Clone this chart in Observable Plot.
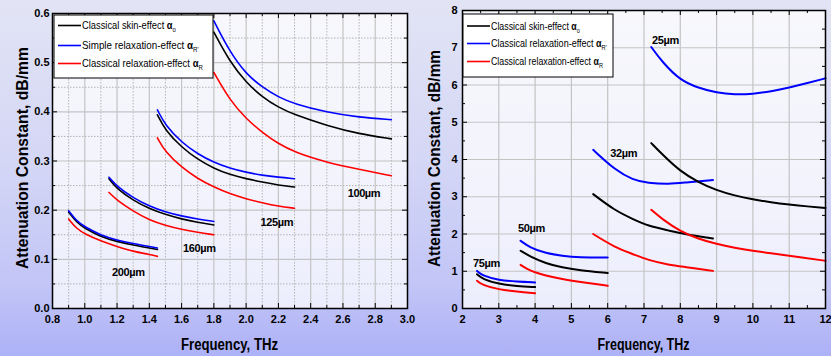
<!DOCTYPE html>
<html><head><meta charset="utf-8">
<script src="https://cdn.jsdelivr.net/npm/d3@7"></script>
<script src="https://cdn.jsdelivr.net/npm/@observablehq/plot@0.6"></script>
<style>
html,body{margin:0;padding:0;}
body{width:831px;height:356px;overflow:hidden;background:linear-gradient(to bottom,#e2e4f5 0%,#d4d7f5 45%,#c2c5f6 80%,#adb1f7 100%);font-family:"Liberation Sans",Arial,sans-serif;}
#wrap{position:relative;width:831px;height:356px;display:flex;}
#wrap svg{display:block;overflow:visible;background:transparent;}
</style></head><body><div id="wrap"></div>
<script>
// ---------- LEFT PANEL DATA (thick films) ----------
const leftGroups = ["200µm","160µm","125µm","100µm"];
const L200_f      = [0.90,0.95,1.00,1.10,1.20,1.30,1.40,1.45];
const L200_skin   = [0.196,0.175,0.163,0.146,0.136,0.129,0.123,0.120];
const L200_simple = [0.199,0.178,0.166,0.149,0.139,0.132,0.126,0.123];
const L200_class  = [0.182,0.162,0.152,0.137,0.126,0.116,0.110,0.106];

const L160_f      = [1.15,1.20,1.30,1.40,1.50,1.60,1.70,1.80];
const L160_skin   = [0.264,0.243,0.220,0.203,0.191,0.182,0.175,0.170];
const L160_simple = [0.267,0.248,0.225,0.208,0.196,0.188,0.182,0.177];
const L160_class  = [0.236,0.220,0.198,0.180,0.169,0.161,0.155,0.150];

const L125_f      = [1.45,1.50,1.60,1.70,1.80,1.90,2.00,2.10,2.20,2.30];
const L125_skin   = [0.394,0.362,0.328,0.303,0.285,0.272,0.264,0.257,0.251,0.247];
const L125_simple = [0.404,0.372,0.338,0.314,0.297,0.285,0.277,0.271,0.267,0.264];
const L125_class  = [0.347,0.318,0.287,0.264,0.247,0.233,0.223,0.215,0.208,0.204];

const L100_f      = [1.80,1.90,2.00,2.10,2.20,2.30,2.50,2.70,2.90];
const L100_skin   = [0.562,0.501,0.460,0.430,0.409,0.394,0.372,0.355,0.345];
const L100_simple = [0.585,0.521,0.477,0.450,0.430,0.416,0.399,0.389,0.384];
const L100_class  = [0.480,0.423,0.386,0.358,0.335,0.318,0.297,0.283,0.270];

// ---------- RIGHT PANEL DATA (thin films) ----------
const rightGroups = ["75µm","50µm","32µm","25µm"];
const R75_f      = [2.4,2.55,3.0,3.5,4.0];
const R75_skin   = [0.92,0.79,0.66,0.60,0.575];
const R75_simple = [1.01,0.88,0.76,0.72,0.70];
const R75_class  = [0.745,0.63,0.51,0.45,0.41];

const R50_f      = [3.6,3.85,4.3,4.75,5.2,6.0];
const R50_skin   = [1.55,1.40,1.21,1.10,1.03,0.95];
const R50_simple = [1.82,1.64,1.48,1.41,1.37,1.37];
const R50_class  = [1.17,1.01,0.88,0.79,0.72,0.61];

const R32_f      = [5.6,6.2,6.7,7.1,7.7,8.1,8.9];
const R32_skin   = [3.07,2.63,2.40,2.22,2.09,2.00,1.88];
const R32_simple = [4.26,3.72,3.45,3.37,3.34,3.38,3.45];
const R32_class  = [2.00,1.64,1.46,1.30,1.17,1.12,1.01];

const R25_f      = [7.2,7.5,8.0,8.5,9.0,9.5,10.0,10.5,11.0,11.5,12.0];
const R25_skin   = [4.44,4.14,3.68,3.39,3.17,3.03,2.93,2.85,2.79,2.74,2.70];
const R25_simple = [7.02,6.62,6.12,5.92,5.79,5.74,5.76,5.83,5.93,6.05,6.18];
const R25_class  = [2.65,2.40,2.07,1.87,1.73,1.63,1.55,1.48,1.42,1.35,1.28];

// ---------- ANNOTATION LABELS ----------
const leftLabelText = ["200µm","160µm","125µm","100µm"];
const leftLabelF    = [1.27,1.71,2.19,2.73];
const leftLabelV    = [0.073,0.122,0.175,0.234];
const rightLabelText = ["75µm","50µm","32µm","25µm"];
const rightLabelF    = [2.66,3.90,6.44,7.59];
const rightLabelV    = [1.20,2.14,4.16,7.20];

// ---------- TICKS ----------
const leftXTicks = [0.8,1.0,1.2,1.4,1.6,1.8,2.0,2.2,2.4,2.6,2.8,3.0];
const leftXMinor = [0.9,1.1,1.3,1.5,1.7,1.9,2.1,2.3,2.5,2.7,2.9];
const leftYTicks = [0,0.1,0.2,0.3,0.4,0.5,0.6];
const leftYMinor = [0.05,0.15,0.25,0.35,0.45,0.55];
const rightXTicks = [2,3,4,5,6,7,8,9,10,11,12];
const rightXMinor = [2.5,3.5,4.5,5.5,6.5,7.5,8.5,9.5,10.5,11.5];
const rightYTicks = [0,1,2,3,4,5,6,7,8];
const rightYMinor = [0.5,1.5,2.5,3.5,4.5,5.5,6.5,7.5];

// ---------- LEGENDS ----------
const seriesKeys = ["skin","simple","classical"];
const seriesColors = ["#000000","#0000ff","#ff0000"];
const leftLegendText  = ["Classical skin-effect ","Simple relaxation-effect ","Classical relaxation-effect "];
const rightLegendText = ["Classical skin-effect ","Classical relaxation-effect ","Classical relaxation-effect "];
const legendSub = ["o","R'","R"];

function addGroup(rows, panel, group, f, skin, simple, classical) {
  f.forEach((x, i) => {
    rows.push({panel, group, series: "skin", f: x, v: skin[i]});
    rows.push({panel, group, series: "simple", f: x, v: simple[i]});
    rows.push({panel, group, series: "classical", f: x, v: classical[i]});
  });
}
const leftRows = [];
addGroup(leftRows, "L", "200", L200_f, L200_skin, L200_simple, L200_class);
addGroup(leftRows, "L", "160", L160_f, L160_skin, L160_simple, L160_class);
addGroup(leftRows, "L", "125", L125_f, L125_skin, L125_simple, L125_class);
addGroup(leftRows, "L", "100", L100_f, L100_skin, L100_simple, L100_class);
const rightRows = [];
addGroup(rightRows, "R", "75", R75_f, R75_skin, R75_simple, R75_class);
addGroup(rightRows, "R", "50", R50_f, R50_skin, R50_simple, R50_class);
addGroup(rightRows, "R", "32", R32_f, R32_skin, R32_simple, R32_class);
addGroup(rightRows, "R", "25", R25_f, R25_skin, R25_simple, R25_class);

const leftLabels = leftLabelText.map((t, i) => ({t, f: leftLabelF[i], v: leftLabelV[i]}));
const rightLabels = rightLabelText.map((t, i) => ({t, f: rightLabelF[i], v: rightLabelV[i]}));

function panel(cfg) {
  const {width, height, ml, mr, mt, mb, xDomain, yDomain, rows, labels,
         xT, xM, yT, yM, xFmt, yFmt, yPad, minorGrid, lineW} = cfg;
  const PH = height - mt - mb, PW = width - ml - mr;
  const marks = [
    Plot.frame({fill: "white", fillOpacity: 0.72, stroke: null}),
  ];
  if (minorGrid) {
    marks.push(Plot.gridX(xM, {stroke: "#b4b4b4", strokeOpacity: 1, strokeWidth: 1, strokeDasharray: "1.5,1.5"}));
    marks.push(Plot.gridY(yM, {stroke: "#b4b4b4", strokeOpacity: 1, strokeWidth: 1, strokeDasharray: "1.5,1.5"}));
  }
  marks.push(
    Plot.gridX(xT, {stroke: "#c4c4c4", strokeOpacity: 1, strokeWidth: 1.2}),
    Plot.gridY(yT, {stroke: "#c4c4c4", strokeOpacity: 1, strokeWidth: 1.2}),
    Plot.line(rows, {x: "f", y: "v", z: d => d.group + d.series, stroke: "series", curve: "basis", strokeWidth: lineW}),
    Plot.text(labels, {x: "f", y: "v", text: "t", fontSize: 11, fontWeight: "bold", fill: "black"}),
    Plot.tickX(xT, {x: d => d, insetTop: PH - 5, stroke: "black"}),
    Plot.tickX(xT, {x: d => d, insetBottom: PH - 5, stroke: "black"}),
    Plot.tickX(xM, {x: d => d, insetTop: PH - 3, stroke: "black"}),
    Plot.tickX(xM, {x: d => d, insetBottom: PH - 3, stroke: "black"}),
    Plot.tickY(yT, {y: d => d, insetRight: PW - 5, stroke: "black"}),
    Plot.tickY(yT, {y: d => d, insetLeft: PW - 5, stroke: "black"}),
    Plot.tickY(yM, {y: d => d, insetRight: PW - 3, stroke: "black"}),
    Plot.tickY(yM, {y: d => d, insetLeft: PW - 3, stroke: "black"}),
    Plot.frame({stroke: "black", strokeWidth: 1.5}),
    Plot.axisX(xT, {tickSize: 0, tickPadding: 7, tickFormat: xFmt, fontSize: 11, fontWeight: "bold", fill: "black", label: null}),
    Plot.axisY(yT, {tickSize: 0, tickPadding: yPad, tickFormat: yFmt, fontSize: 11, fontWeight: "bold", fill: "black", label: null})
  );
  return Plot.plot({
    width, height, marginLeft: ml, marginRight: mr, marginTop: mt, marginBottom: mb,
    style: {background: "transparent", fontFamily: "'Liberation Sans', Arial, sans-serif", color: "black", overflow: "visible"},
    x: {domain: xDomain, label: null},
    y: {domain: yDomain, label: null},
    color: {domain: seriesKeys, range: seriesColors},
    marks
  });
}

function decorate(svg, o) {
  const s = d3.select(svg);
  s.selectAll("g[aria-label=text] text").attr("letter-spacing", "-0.4");
  // axis titles
  s.append("text").attr("x", o.xtX).attr("y", o.xtY).attr("text-anchor", "middle")
    .attr("font-size", 16).attr("font-weight", "bold").attr("fill", "black")
    .attr("textLength", o.xtLen).attr("lengthAdjust", "spacingAndGlyphs").text("Frequency, THz");
  s.append("text").attr("transform", `translate(${o.ytX},${o.ytY}) rotate(-90)`).attr("text-anchor", "middle")
    .attr("font-size", 16.5).attr("font-weight", "bold").attr("fill", "black")
    .attr("textLength", o.ytLen).attr("lengthAdjust", "spacingAndGlyphs").text("Attenuation Constant, dB/mm");
  // legend
  const g = s.append("g").attr("transform", `translate(${o.lgX},${o.lgY})`).attr("text-anchor", "start");
  g.append("rect").attr("width", o.lgW).attr("height", o.lgH).attr("fill", "white").attr("stroke", "black").attr("stroke-width", 1);
  o.lgText.forEach((t, i) => {
    const y = o.rowY[i];
    g.append("line").attr("x1", 4).attr("x2", 27).attr("y1", y).attr("y2", y)
      .attr("stroke", seriesColors[i]).attr("stroke-width", 1.6);
    const row = g.append("g").attr("transform", `translate(28,${y})`);
    const tx = row.append("text").attr("x", 0).attr("y", 0).attr("dy", "0.36em").attr("font-size", 11)
      .attr("text-anchor", "start").attr("fill", "black");
    tx.append("tspan").text(t);
    tx.append("tspan").attr("font-weight", "bold").text("α");
    tx.append("tspan").attr("dy", 3).attr("font-size", 7).text(legendSub[i]);
    const natural = tx.node().getComputedTextLength() || o.txtLen[i];
    row.attr("transform", `translate(28,${y}) scale(${(o.txtLen[i] / natural).toFixed(4)},1)`);
  });
}

const wrap = document.getElementById("wrap");
const left = panel({width: 415, height: 356, ml: 52, mr: 8, mt: 13, mb: 48,
  xDomain: [0.8, 3.0], yDomain: [0, 0.6], rows: leftRows, labels: leftLabels,
  xT: leftXTicks, xM: leftXMinor, yT: leftYTicks, yM: leftYMinor,
  xFmt: d3.format(".1f"), yFmt: d3.format(".1f"), yPad: 3, minorGrid: true, lineW: 1.6});
wrap.appendChild(left);
decorate(left, {xtX: 229.5, xtY: 350, xtLen: 97, ytX: 27.5, ytY: 158, ytLen: 222,
  lgX: 54, lgY: 15, lgW: 159, lgH: 63, rowY: [10.5, 30.5, 48.5], lgText: leftLegendText, txtLen: [94, 117, 121]});

const right = panel({width: 416, height: 356, ml: 47, mr: 6, mt: 10, mb: 48,
  xDomain: [2, 12], yDomain: [0, 8], rows: rightRows, labels: rightLabels,
  xT: rightXTicks, xM: rightXMinor, yT: rightYTicks, yM: rightYMinor,
  xFmt: d3.format("d"), yFmt: d3.format("d"), yPad: 5, minorGrid: false, lineW: 2});
wrap.appendChild(right);
decorate(right, {xtX: 228.5, xtY: 350, xtLen: 92, ytX: 25, ytY: 158.5, ytLen: 217,
  lgX: 48, lgY: 14, lgW: 150, lgH: 63, rowY: [12, 29.5, 47.5], lgText: rightLegendText, txtLen: [89, 116, 112]});
</script></body></html>
